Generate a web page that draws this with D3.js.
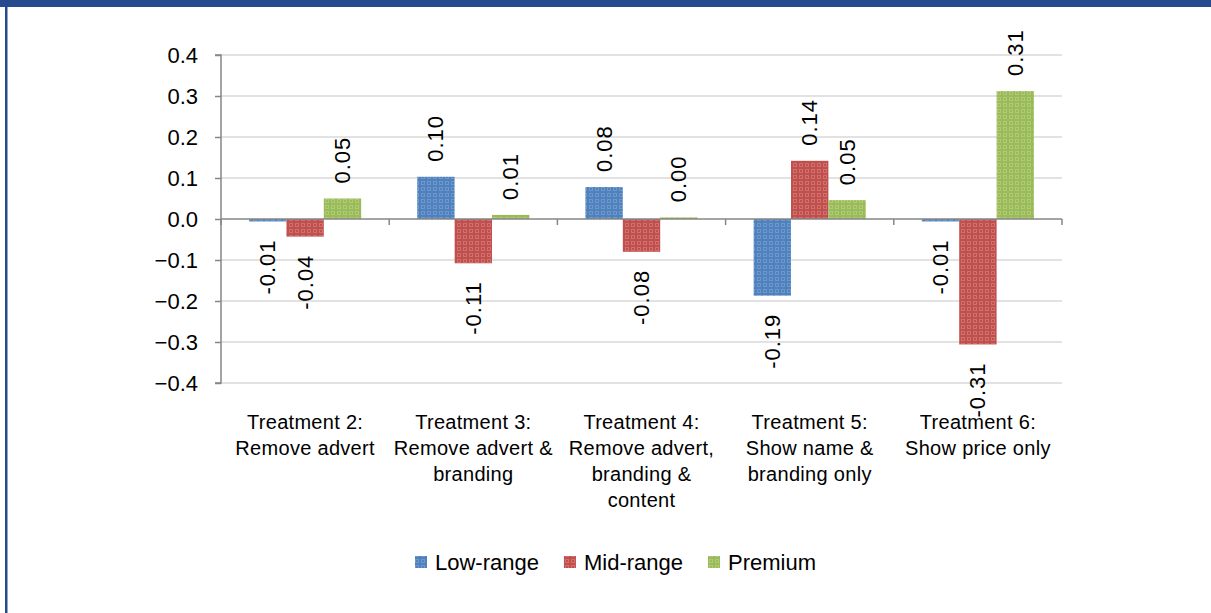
<!DOCTYPE html>
<html>
<head>
<meta charset="utf-8">
<script src="https://cdn.jsdelivr.net/npm/d3@7"></script>
<style>
  body { margin: 0; background: #fff; }
  svg { display: block; font-family: "Liberation Sans", Arial, sans-serif; }
</style>
</head>
<body>
<div id="chart"></div>
<script>
// Datos del gráfico
const categories = [
    ["Treatment 2:", "Remove advert"],
    ["Treatment 3:", "Remove advert &", "branding"],
    ["Treatment 4:", "Remove advert,", "branding &", "content"],
    ["Treatment 5:", "Show name &", "branding only"],
    ["Treatment 6:", "Show price only"]
];
const seriesNames = ["Low-range", "Mid-range", "Premium"];
const lowRange = [-0.006, 0.103, 0.078, -0.187, -0.006];
const midRange = [-0.043, -0.108, -0.080, 0.142, -0.306];
const premium = [0.050, 0.010, 0.004, 0.046, 0.312];
const yTicks = [-0.4, -0.3, -0.2, -0.1, 0.0, 0.1, 0.2, 0.3, 0.4];

const colors = ["#4F81BD", "#C0504D", "#9BBB59"];
const light = ["#6E97CB", "#D06F6C", "#AECA78"];

const W = 1211, H = 613;
const plot = { left: 221, right: 1062, top: 55, bottom: 383 };

const svg = d3.select("#chart").append("svg")
    .attr("width", W)
    .attr("height", H);

// Patrones de relleno (cuadrícula punteada)
const defs = svg.append("defs");
colors.forEach((c, i) => {
    const p = defs.append("pattern")
        .attr("id", "pat" + i)
        .attr("patternUnits", "userSpaceOnUse")
        .attr("width", 6).attr("height", 6);
    p.append("rect").attr("width", 6).attr("height", 6).attr("fill", c);
    p.append("rect").attr("x", 1.5).attr("y", 1.5).attr("width", 3).attr("height", 3)
        .attr("fill", "none").attr("stroke", light[i]).attr("stroke-width", 1);
});

// Marco
svg.append("rect").attr("x", 0).attr("y", 0).attr("width", W).attr("height", 7).attr("fill", "#254B8E");
svg.append("rect").attr("x", 5).attr("y", 0).attr("width", 2.5).attr("height", H).attr("fill", "#254B8E");

// Escalas
const x0 = d3.scaleBand().domain(d3.range(categories.length)).range([plot.left, plot.right]).padding(0);
const bw = x0.bandwidth() / 4.5;
const x1 = d3.scaleBand().domain(d3.range(3)).range([bw * 0.75, bw * 3.75]).padding(0);
const y = d3.scaleLinear().domain([-0.4, 0.4]).range([plot.bottom, plot.top]);

// Líneas de cuadrícula
svg.append("g").selectAll("line")
    .data(yTicks.filter(t => t !== 0))
    .enter().append("line")
    .attr("x1", plot.left).attr("x2", plot.right)
    .attr("y1", d => y(d)).attr("y2", d => y(d))
    .attr("stroke", "#D9D9D9").attr("stroke-width", 1.5);

// Barras
const series = [lowRange, midRange, premium];
const data = [];
series.forEach((vals, s) => vals.forEach((v, c) => data.push({ s, c, v })));

svg.append("g").selectAll("rect")
    .data(data)
    .enter().append("rect")
    .attr("x", d => x0(d.c) + x1(d.s))
    .attr("width", x1.bandwidth())
    .attr("y", d => y(Math.max(0, d.v)))
    .attr("height", d => Math.abs(y(d.v) - y(0)))
    .attr("fill", d => `url(#pat${d.s})`);

// Eje Y
const yAxis = d3.axisLeft(y).tickValues(yTicks).tickFormat(d3.format(".1f")).tickSize(6).tickPadding(17);
const gy = svg.append("g")
    .attr("transform", `translate(${plot.left},0)`)
    .call(yAxis);
gy.select(".domain").attr("stroke", "#868686").attr("stroke-width", 1.5).attr("d", `M-6,${plot.top}H0V${plot.bottom}H-6`);
gy.selectAll(".tick line").attr("stroke", "#868686").attr("stroke-width", 1.5);
gy.selectAll(".tick text").attr("font-size", 22).attr("fill", "#000")
    .attr("font-family", "Liberation Sans, Arial, sans-serif");

// Eje X en cero
const xTicks = d3.range(categories.length + 1).map(i => plot.left + i * x0.bandwidth());
svg.append("line")
    .attr("x1", plot.left).attr("x2", plot.right)
    .attr("y1", y(0)).attr("y2", y(0))
    .attr("stroke", "#868686").attr("stroke-width", 1.5);
svg.append("g").selectAll("line")
    .data(xTicks)
    .enter().append("line")
    .attr("x1", d => d).attr("x2", d => d)
    .attr("y1", y(0)).attr("y2", y(0) + 6)
    .attr("stroke", "#868686").attr("stroke-width", 1.5);

// Etiquetas de datos (rotadas)
svg.append("g").selectAll("text")
    .data(data)
    .enter().append("text")
    .attr("transform", d => {
        const cx = x0(d.c) + x1(d.s) + x1.bandwidth() / 2;
        const yy = d.v >= 0 ? y(d.v) - 15 : y(d.v) + 18;
        return `translate(${cx},${yy}) rotate(-90)`;
    })
    .attr("text-anchor", d => d.v >= 0 ? "start" : "end")
    .attr("dominant-baseline", "central")
    .attr("font-size", 22)
    .attr("letter-spacing", 1)
    .attr("fill", "#000")
    .text(d => d.v.toFixed(2));

// Etiquetas de categorías
const catG = svg.append("g").selectAll("text")
    .data(categories)
    .enter().append("text")
    .attr("x", (d, i) => x0(i) + x0.bandwidth() / 2)
    .attr("y", 422)
    .attr("text-anchor", "middle")
    .attr("font-size", 20)
    .attr("letter-spacing", 0.3)
    .attr("fill", "#000");
catG.selectAll("tspan")
    .data(d => d)
    .enter().append("tspan")
    .attr("x", function () { return this.parentNode.getAttribute("x"); })
    .attr("y", (d, i) => 422 + i * 26)
    .attr("dominant-baseline", "central")
    .text(d => d);

// Leyenda
const legend = svg.append("g");
let lx = 415;
seriesNames.forEach((name, i) => {
    legend.append("rect")
        .attr("x", lx).attr("y", 556).attr("width", 12).attr("height", 12)
        .attr("fill", `url(#pat${i})`);
    const t = legend.append("text")
        .attr("x", lx + 20).attr("y", 562)
        .attr("dominant-baseline", "central")
        .attr("font-size", 22)
        .attr("fill", "#000")
        .text(name);
    lx += 20 + t.node().getComputedTextLength() + 25;
});
</script>
</body>
</html>
